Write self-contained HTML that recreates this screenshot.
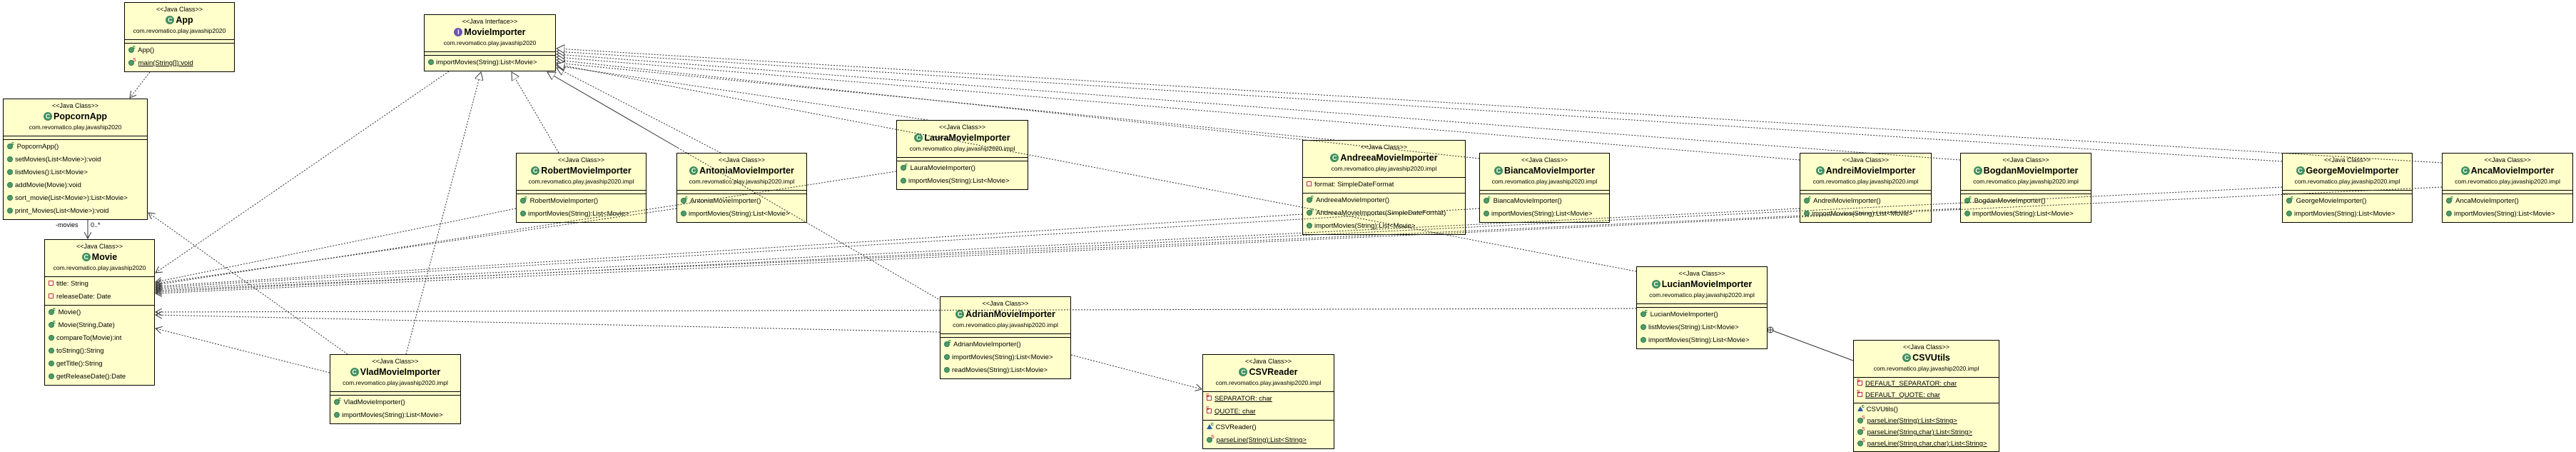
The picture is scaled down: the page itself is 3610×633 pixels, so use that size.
<!DOCTYPE html>
<html><head><meta charset="utf-8">
<style>
html,body{margin:0;padding:0;background:#fff;}
body{width:3610px;height:633px;position:relative;overflow:hidden;font-family:"Liberation Sans",Arial,sans-serif;color:#000;}
.b{position:absolute;background:#ffffcc;border:1px solid #000;box-sizing:border-box;}
.h{height:51px;text-align:center;border-bottom:1px solid #000;}
.st{font-size:9px;line-height:11px;padding-top:4px;}
.nm{font-size:12.5px;font-weight:bold;line-height:18px;}
.pk{font-size:8.5px;line-height:13px;}
.e{height:4px;border-bottom:1px solid #000;}
.sec{padding:1px 0 2px 0;}
.fs{border-bottom:1px solid #000;}
.r{font-size:9.5px;line-height:18px;padding-left:5px;white-space:nowrap;position:relative;}
.cu .r{line-height:16px;}
.r i{display:inline-block;width:6px;height:6px;border-radius:50%;background:#4f9a6c;border:1px solid #2f7a4a;margin-right:3px;vertical-align:-1px;}
.r b.c{position:absolute;font-size:7px;color:#1a7a2a;top:-4px;left:11px;font-weight:bold;}
.r b.s{position:absolute;font-size:7px;color:#c0003a;top:-4px;left:11px;font-weight:normal;}
.r .pv{display:inline-block;width:5px;height:5px;background:#fff;border:1px solid #c03030;margin-right:4px;vertical-align:0px;}
.r .tri{display:inline-block;width:0;height:0;border-left:4px solid transparent;border-right:4px solid transparent;border-bottom:7px solid #2a5caa;margin-right:2px;vertical-align:0;}
.u{text-decoration:underline;}
.ci{display:inline-block;width:12px;height:12px;border-radius:50%;background:#3f8f5c;color:#fff;font-size:9px;line-height:12px;text-align:center;margin-right:2px;vertical-align:1px;font-weight:bold;}
.ii{background:#6a55b5;}
svg{position:absolute;left:0;top:0;}
.lab{position:absolute;font-size:9px;}
</style></head><body>

<div class="b" style="left:174px;top:3px;width:155px;">
<div class="h"><div class="st">&lt;&lt;Java Class&gt;&gt;</div><div class="nm"><span class="ci">C</span>App</div><div class="pk">com.revomatico.play.javaship2020</div></div>
<div class="e"></div>
<div class="sec"><div class="r"><i></i><b class="c">c</b> App()</div><div class="r"><i></i><b class="s">S</b> <span class="u">main(String[]):void</span></div></div>
</div>

<div class="b" style="left:4px;top:138px;width:203px;">
<div class="h"><div class="st">&lt;&lt;Java Class&gt;&gt;</div><div class="nm"><span class="ci">C</span>PopcornApp</div><div class="pk">com.revomatico.play.javaship2020</div></div>
<div class="e"></div>
<div class="sec">
<div class="r"><i></i><b class="c">c</b> PopcornApp()</div>
<div class="r"><i></i>setMovies(List&lt;Movie&gt;):void</div>
<div class="r"><i></i>listMovies():List&lt;Movie&gt;</div>
<div class="r"><i></i>addMovie(Movie):void</div>
<div class="r"><i></i>sort_movie(List&lt;Movie&gt;):List&lt;Movie&gt;</div>
<div class="r"><i></i>print_Movies(List&lt;Movie&gt;):void</div>
</div></div>

<div class="b" style="left:594px;top:20px;width:185px;">
<div class="h"><div class="st">&lt;&lt;Java Interface&gt;&gt;</div><div class="nm"><span class="ci ii">I</span>MovieImporter</div><div class="pk">com.revomatico.play.javaship2020</div></div>
<div class="e"></div>
<div class="sec"><div class="r"><i></i>importMovies(String):List&lt;Movie&gt;</div></div>
</div>

<div class="b" style="left:62px;top:335px;width:155px;">
<div class="h"><div class="st">&lt;&lt;Java Class&gt;&gt;</div><div class="nm"><span class="ci">C</span>Movie</div><div class="pk">com.revomatico.play.javaship2020</div></div>
<div class="sec fs"><div class="r"><span class="pv"></span>title: String</div><div class="r"><span class="pv"></span>releaseDate: Date</div></div>
<div class="sec">
<div class="r"><i></i><b class="c">c</b> Movie()</div>
<div class="r"><i></i><b class="c">c</b> Movie(String,Date)</div>
<div class="r"><i></i>compareTo(Movie):int</div>
<div class="r"><i></i>toString():String</div>
<div class="r"><i></i>getTitle():String</div>
<div class="r"><i></i>getReleaseDate():Date</div>
</div></div>

<div class="b" style="left:723px;top:214px;width:183px;">
<div class="h"><div class="st">&lt;&lt;Java Class&gt;&gt;</div><div class="nm"><span class="ci">C</span>RobertMovieImporter</div><div class="pk">com.revomatico.play.javaship2020.impl</div></div>
<div class="e"></div>
<div class="sec"><div class="r"><i></i><b class="c">c</b> RobertMovieImporter()</div><div class="r"><i></i>importMovies(String):List&lt;Movie&gt;</div></div></div>

<div class="b" style="left:948px;top:214px;width:183px;">
<div class="h"><div class="st">&lt;&lt;Java Class&gt;&gt;</div><div class="nm"><span class="ci">C</span>AntoniaMovieImporter</div><div class="pk">com.revomatico.play.javaship2020.impl</div></div>
<div class="e"></div>
<div class="sec"><div class="r"><i></i><b class="c">c</b> AntoniaMovieImporter()</div><div class="r"><i></i>importMovies(String):List&lt;Movie&gt;</div></div></div>

<div class="b" style="left:1256px;top:168px;width:185px;">
<div class="h"><div class="st">&lt;&lt;Java Class&gt;&gt;</div><div class="nm"><span class="ci">C</span>LauraMovieImporter</div><div class="pk">com.revomatico.play.javaship2020.impl</div></div>
<div class="e"></div>
<div class="sec"><div class="r"><i></i><b class="c">c</b> LauraMovieImporter()</div><div class="r"><i></i>importMovies(String):List&lt;Movie&gt;</div></div></div>

<div class="b" style="left:1825px;top:196px;width:229px;">
<div class="h"><div class="st">&lt;&lt;Java Class&gt;&gt;</div><div class="nm"><span class="ci">C</span>AndreeaMovieImporter</div><div class="pk">com.revomatico.play.javaship2020.impl</div></div>
<div class="sec fs"><div class="r"><span class="pv"></span>format: SimpleDateFormat</div></div>
<div class="sec"><div class="r"><i></i><b class="c">c</b> AndreeaMovieImporter()</div><div class="r"><i></i><b class="c">c</b> AndreeaMovieImporter(SimpleDateFormat)</div><div class="r"><i></i>importMovies(String):List&lt;Movie&gt;</div></div></div>

<div class="b" style="left:2073px;top:214px;width:183px;">
<div class="h"><div class="st">&lt;&lt;Java Class&gt;&gt;</div><div class="nm"><span class="ci">C</span>BiancaMovieImporter</div><div class="pk">com.revomatico.play.javaship2020.impl</div></div>
<div class="e"></div>
<div class="sec"><div class="r"><i></i><b class="c">c</b> BiancaMovieImporter()</div><div class="r"><i></i>importMovies(String):List&lt;Movie&gt;</div></div></div>

<div class="b" style="left:2522px;top:214px;width:185px;">
<div class="h"><div class="st">&lt;&lt;Java Class&gt;&gt;</div><div class="nm"><span class="ci">C</span>AndreiMovieImporter</div><div class="pk">com.revomatico.play.javaship2020.impl</div></div>
<div class="e"></div>
<div class="sec"><div class="r"><i></i><b class="c">c</b> AndreiMovieImporter()</div><div class="r"><i></i>importMovies(String):List&lt;Movie&gt;</div></div></div>

<div class="b" style="left:2747px;top:214px;width:184px;">
<div class="h"><div class="st">&lt;&lt;Java Class&gt;&gt;</div><div class="nm"><span class="ci">C</span>BogdanMovieImporter</div><div class="pk">com.revomatico.play.javaship2020.impl</div></div>
<div class="e"></div>
<div class="sec"><div class="r"><i></i><b class="c">c</b> BogdanMovieImporter()</div><div class="r"><i></i>importMovies(String):List&lt;Movie&gt;</div></div></div>

<div class="b" style="left:3198px;top:214px;width:183px;">
<div class="h"><div class="st">&lt;&lt;Java Class&gt;&gt;</div><div class="nm"><span class="ci">C</span>GeorgeMovieImporter</div><div class="pk">com.revomatico.play.javaship2020.impl</div></div>
<div class="e"></div>
<div class="sec"><div class="r"><i></i><b class="c">c</b> GeorgeMovieImporter()</div><div class="r"><i></i>importMovies(String):List&lt;Movie&gt;</div></div></div>

<div class="b" style="left:3422px;top:214px;width:184px;">
<div class="h"><div class="st">&lt;&lt;Java Class&gt;&gt;</div><div class="nm"><span class="ci">C</span>AncaMovieImporter</div><div class="pk">com.revomatico.play.javaship2020.impl</div></div>
<div class="e"></div>
<div class="sec"><div class="r"><i></i><b class="c">c</b> AncaMovieImporter()</div><div class="r"><i></i>importMovies(String):List&lt;Movie&gt;</div></div></div>

<div class="b" style="left:2293px;top:373px;width:184px;">
<div class="h"><div class="st">&lt;&lt;Java Class&gt;&gt;</div><div class="nm"><span class="ci">C</span>LucianMovieImporter</div><div class="pk">com.revomatico.play.javaship2020.impl</div></div>
<div class="e"></div>
<div class="sec"><div class="r"><i></i><b class="c">c</b> LucianMovieImporter()</div><div class="r"><i></i>listMovies(String):List&lt;Movie&gt;</div><div class="r"><i></i>importMovies(String):List&lt;Movie&gt;</div></div></div>

<div class="b" style="left:1317px;top:415px;width:184px;">
<div class="h"><div class="st">&lt;&lt;Java Class&gt;&gt;</div><div class="nm"><span class="ci">C</span>AdrianMovieImporter</div><div class="pk">com.revomatico.play.javaship2020.impl</div></div>
<div class="e"></div>
<div class="sec"><div class="r"><i></i><b class="c">c</b> AdrianMovieImporter()</div><div class="r"><i></i>importMovies(String):List&lt;Movie&gt;</div><div class="r"><i></i>readMovies(String):List&lt;Movie&gt;</div></div></div>

<div class="b" style="left:462px;top:496px;width:184px;">
<div class="h"><div class="st">&lt;&lt;Java Class&gt;&gt;</div><div class="nm"><span class="ci">C</span>VladMovieImporter</div><div class="pk">com.revomatico.play.javaship2020.impl</div></div>
<div class="e"></div>
<div class="sec"><div class="r"><i></i><b class="c">c</b> VladMovieImporter()</div><div class="r"><i></i>importMovies(String):List&lt;Movie&gt;</div></div></div>

<div class="b" style="left:1685px;top:496px;width:185px;">
<div class="h"><div class="st">&lt;&lt;Java Class&gt;&gt;</div><div class="nm"><span class="ci">C</span>CSVReader</div><div class="pk">com.revomatico.play.javaship2020.impl</div></div>
<div class="sec fs"><div class="r"><span class="pv"></span><b class="s" style="left:4px">S</b><span class="u">SEPARATOR: char</span></div><div class="r"><span class="pv"></span><b class="s" style="left:4px">S</b><span class="u">QUOTE: char</span></div></div>
<div class="sec"><div class="r"><span class="tri"></span><b class="c">c</b> CSVReader()</div><div class="r"><i></i><b class="s">S</b> <span class="u">parseLine(String):List&lt;String&gt;</span></div></div></div>

<div class="b cu" style="left:2597px;top:476px;width:205px;">
<div class="h"><div class="st">&lt;&lt;Java Class&gt;&gt;</div><div class="nm"><span class="ci">C</span>CSVUtils</div><div class="pk">com.revomatico.play.javaship2020.impl</div></div>
<div class="sec fs"><div class="r"><span class="pv"></span><b class="s" style="left:4px">S</b><span class="u">DEFAULT_SEPARATOR: char</span></div><div class="r"><span class="pv"></span><b class="s" style="left:4px">S</b><span class="u">DEFAULT_QUOTE: char</span></div></div>
<div class="sec"><div class="r"><span class="tri"></span><b class="c">c</b> CSVUtils()</div>
<div class="r"><i></i><b class="s">S</b> <span class="u">parseLine(String):List&lt;String&gt;</span></div>
<div class="r"><i></i><b class="s">S</b> <span class="u">parseLine(String,char):List&lt;String&gt;</span></div>
<div class="r"><i></i><b class="s">S</b> <span class="u">parseLine(String,char,char):List&lt;String&gt;</span></div></div></div>

<div class="lab" style="left:78px;top:310px;">-movies</div>
<div class="lab" style="left:127px;top:310px;">0..*</div>

<svg width="3610" height="633" viewBox="0 0 3610 633">
<defs>
<marker id="oa" markerWidth="10" markerHeight="10" refX="9" refY="5" orient="auto" markerUnits="userSpaceOnUse"><path d="M0,0 L9,5 L0,10" fill="none" stroke="#333" stroke-width="1"/></marker>
<marker id="tr" markerWidth="12" markerHeight="12" refX="11" refY="6" orient="auto" markerUnits="userSpaceOnUse"><path d="M0,0 L11,6 L0,12 Z" fill="#fff" stroke="#333" stroke-width="1"/></marker>
</defs>
<g stroke="#333" stroke-width="1" fill="none" stroke-dasharray="2,2">
<line x1="210" y1="101" x2="182" y2="137" marker-end="url(#oa)"/>
<line x1="487" y1="496" x2="208" y2="298" marker-end="url(#oa)"/>
<line x1="629" y1="100" x2="218" y2="382" marker-end="url(#oa)"/>
<line x1="723" y1="292" x2="218" y2="395" marker-end="url(#oa)"/>
<line x1="948" y1="292" x2="218" y2="397" marker-end="url(#oa)"/>
<line x1="1256" y1="240" x2="218" y2="399" marker-end="url(#oa)"/>
<line x1="1825" y1="300" x2="218" y2="401" marker-end="url(#oa)"/>
<line x1="2073" y1="292" x2="218" y2="403" marker-end="url(#oa)"/>
<line x1="2522" y1="292" x2="218" y2="405" marker-end="url(#oa)"/>
<line x1="2747" y1="292" x2="218" y2="407" marker-end="url(#oa)"/>
<line x1="3198" y1="262" x2="218" y2="409" marker-end="url(#oa)"/>
<line x1="3422" y1="262" x2="218" y2="411" marker-end="url(#oa)"/>
<line x1="2293" y1="432" x2="218" y2="437" marker-end="url(#oa)"/>
<line x1="1317" y1="465" x2="218" y2="441" marker-end="url(#oa)"/>
<line x1="462" y1="522" x2="218" y2="460" marker-end="url(#oa)"/>
<line x1="1501" y1="497" x2="1684" y2="545" marker-end="url(#oa)"/>

<line x1="569" y1="496" x2="674" y2="101" marker-end="url(#tr)"/>
<line x1="783" y1="214" x2="717" y2="101" marker-end="url(#tr)"/>
<line x1="950" y1="207" x2="1317" y2="420"/>
<line x1="1010" y1="214" x2="780" y2="95" marker-end="url(#tr)"/>
<line x1="1300" y1="168" x2="780" y2="92" marker-end="url(#tr)"/>
<line x1="1870" y1="196" x2="780" y2="88" marker-end="url(#tr)"/>
<line x1="2073" y1="222" x2="780" y2="84" marker-end="url(#tr)"/>
<line x1="2522" y1="224" x2="780" y2="80" marker-end="url(#tr)"/>
<line x1="2747" y1="224" x2="780" y2="76" marker-end="url(#tr)"/>
<line x1="3198" y1="226" x2="780" y2="72" marker-end="url(#tr)"/>
<line x1="3422" y1="228" x2="780" y2="68" marker-end="url(#tr)"/>
<line x1="2293" y1="380" x2="780" y2="90" marker-end="url(#tr)"/>
</g>
<g stroke="#333" stroke-width="1" fill="none">
<line x1="950" y1="207" x2="767" y2="101" marker-end="url(#tr)"/>
<line x1="123" y1="308" x2="123" y2="334" marker-end="url(#oa)"/>
<line x1="2484" y1="463" x2="2597" y2="505"/>
<circle cx="2481" cy="462" r="4" fill="#fff"/>
<line x1="2477" y1="462" x2="2485" y2="462"/>
<line x1="2481" y1="458" x2="2481" y2="466"/>
</g>
</svg>
</body></html>
